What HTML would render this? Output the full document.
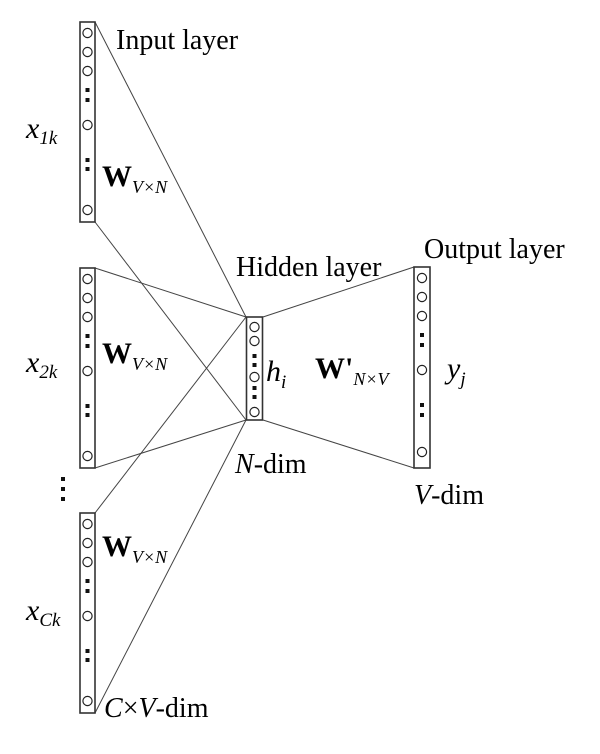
<!DOCTYPE html>
<html><head><style>html,body{margin:0;padding:0;background:#fff}svg{display:block}text{font-family:"Liberation Serif",serif;fill:#000}</style></head><body>
<svg width="600" height="754" viewBox="0 0 600 754" xmlns="http://www.w3.org/2000/svg">
<defs>
<g id="col">
<rect x="80" y="0" width="15" height="200" fill="none" stroke="#333" stroke-width="1.6"/>
<g fill="none" stroke="#222" stroke-width="1.2">
<circle cx="87.5" cy="11" r="4.6"/><circle cx="87.5" cy="30" r="4.6"/><circle cx="87.5" cy="49" r="4.6"/>
<circle cx="87.5" cy="103" r="4.6"/><circle cx="87.5" cy="188" r="4.6"/></g>
<g fill="#111"><rect x="85.5" y="66" width="4" height="4"/><rect x="85.5" y="76" width="4" height="4"/>
<rect x="85.5" y="136" width="4" height="4"/><rect x="85.5" y="145" width="4" height="4"/></g>
</g>
</defs>
<g stroke="#444" stroke-width="1" fill="none">
<line x1="95" y1="22" x2="246" y2="317"/><line x1="95" y1="222" x2="246" y2="420"/>
<line x1="95" y1="268" x2="246" y2="317"/><line x1="95" y1="468" x2="246" y2="420"/>
<line x1="95" y1="513" x2="246" y2="317"/><line x1="95" y1="713" x2="246" y2="420"/>
<line x1="263" y1="317" x2="414" y2="267"/><line x1="263" y1="420" x2="414" y2="468"/>
</g>
<use href="#col" y="22"/><use href="#col" y="268"/><use href="#col" y="513"/>
<g fill="#111"><rect x="61" y="477" width="4" height="4"/><rect x="61" y="487" width="4" height="4"/><rect x="61" y="497" width="4" height="4"/></g>
<rect x="246.5" y="317" width="16" height="103" fill="none" stroke="#333" stroke-width="1.6"/>
<g fill="none" stroke="#222" stroke-width="1.2"><circle cx="254.5" cy="327" r="4.6"/><circle cx="254.5" cy="341" r="4.6"/><circle cx="254.5" cy="377" r="4.6"/><circle cx="254.5" cy="412" r="4.6"/></g>
<g fill="#111"><rect x="252.5" y="354" width="4" height="4"/><rect x="252.5" y="363" width="4" height="4"/><rect x="252.5" y="386" width="4" height="4"/><rect x="252.5" y="395" width="4" height="4"/></g>
<rect x="414" y="267" width="16" height="201" fill="none" stroke="#333" stroke-width="1.6"/>
<g fill="none" stroke="#222" stroke-width="1.2"><circle cx="422" cy="278" r="4.6"/><circle cx="422" cy="297" r="4.6"/><circle cx="422" cy="316" r="4.6"/><circle cx="422" cy="370" r="4.6"/><circle cx="422" cy="452" r="4.6"/></g>
<g fill="#111"><rect x="420" y="333" width="4" height="4"/><rect x="420" y="343" width="4" height="4"/><rect x="420" y="403" width="4" height="4"/><rect x="420" y="413" width="4" height="4"/></g>
<g font-size="28">
<text x="116" y="49">Input layer</text>
<text x="236" y="276">Hidden layer</text>
<text x="424" y="258">Output layer</text>
<text x="235" y="473"><tspan font-style="italic">N</tspan>-dim</text>
<text x="414" y="504"><tspan font-style="italic">V</tspan>-dim</text>
<text x="104" y="717"><tspan font-style="italic">C</tspan>×<tspan font-style="italic">V</tspan>-dim</text>
</g>
<g font-size="30" font-style="italic">
<text x="26" y="138">x<tspan font-size="19" dy="6">1k</tspan></text>
<text x="26" y="372">x<tspan font-size="19" dy="6">2k</tspan></text>
<text x="26" y="620">x<tspan font-size="19" dy="6">Ck</tspan></text>
<text x="266" y="381">h<tspan font-size="19" dy="7">i</tspan></text>
<text x="447" y="378">y<tspan font-size="19" dy="7">j</tspan></text>
</g>
<g font-size="30" font-weight="bold">
<text x="102" y="186">W<tspan font-size="18" font-weight="normal" font-style="italic" dy="7">V×N</tspan></text>
<text x="102" y="363">W<tspan font-size="18" font-weight="normal" font-style="italic" dy="7">V×N</tspan></text>
<text x="102" y="556">W<tspan font-size="18" font-weight="normal" font-style="italic" dy="7">V×N</tspan></text>
<text x="315" y="378">W'<tspan font-size="18" font-weight="normal" font-style="italic" dy="7">N×V</tspan></text>
</g>
</svg>
</body></html>
